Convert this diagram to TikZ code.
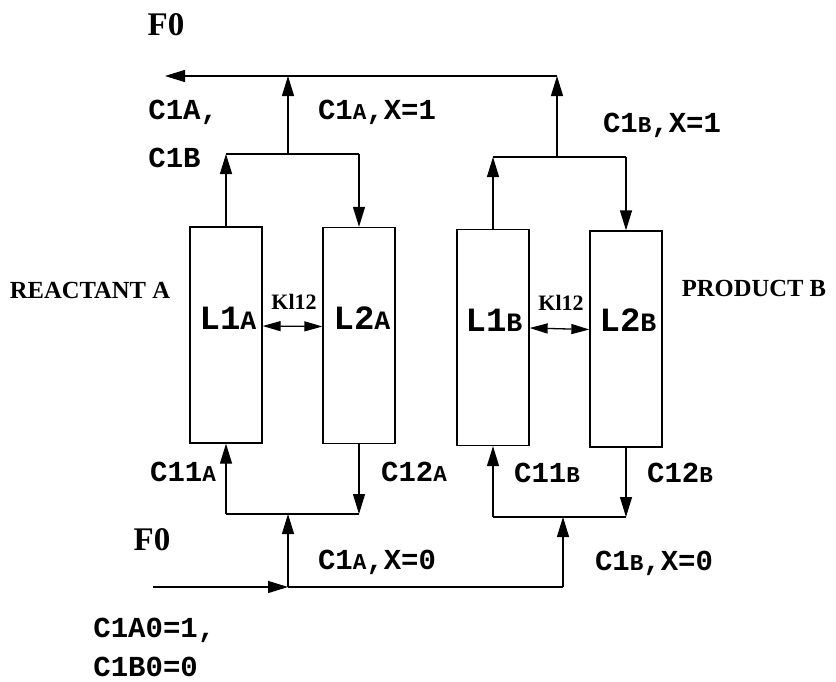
\documentclass[tikz,border=0pt]{standalone}
\usepackage{fontspec}
\usepackage{graphicx}
\setmainfont{Liberation Serif}
\setmonofont{Liberation Mono}
\usepackage{tikz}
\usetikzlibrary{arrows.meta}

\newcommand{\smc}[1]{\scalebox{0.78}{#1}}

\tikzset{
  column/.style={draw, line width=0.65pt, minimum width=36pt, minimum height=108pt, inner sep=0pt},
  pipe/.style={line width=0.65pt},
  flow/.style={line width=0.65pt, -{Triangle[length=10pt,width=6pt]}},
  duplex/.style={line width=0.65pt, {Triangle[length=9pt,width=5pt]}-{Triangle[length=9pt,width=5pt]}},
  conc/.style={font=\ttfamily\bfseries\fontsize{14.5}{17}\selectfont, inner sep=0pt},
  colname/.style={font=\ttfamily\bfseries\fontsize{17}{19}\selectfont, inner sep=0pt},
  tag/.style={font=\bfseries\fontsize{12.3}{14}\selectfont, inner sep=0pt},
  feed/.style={font=\bfseries\fontsize{16.5}{18}\selectfont, inner sep=0pt},
  rate/.style={font=\bfseries\fontsize{11}{13}\selectfont, inner sep=0pt}
}

\begin{document}
\begin{tikzpicture}[x=0.5pt,y=-0.5pt]
\useasboundingbox (0,0) rectangle (836,681);

% columns
\node[column] (L1A) at (226,335) {};
\node[column] (L2A) at (359,335.5) {};
\node[column] (L1B) at (493,337.5) {};
\node[column] (L2B) at (626,339) {};

\node[colname] at (228,318) {L1\smc{A}};
\node[colname] at (362,318) {L2\smc{A}};
\node[colname] at (494,320) {L1\smc{B}};
\node[colname] at (628,320) {L2\smc{B}};

% junctions
\coordinate (topA) at (288,154);
\coordinate (topB) at (557,157);
\coordinate (outL) at (165,76);
\coordinate (outA) at (288,76);
\coordinate (outB) at (557,76);
\coordinate (botA) at (288,514);
\coordinate (botB) at (563,517);
\coordinate (feedIn) at (153,587);
\coordinate (feedA) at (288,587);
\coordinate (feedB) at (563,587);

% product stream out at the top
\draw[flow] (L1A.north) -- (L1A.north |- topA);
\draw[pipe] (L1A.north |- topA) -- (L2A.north |- topA);
\draw[flow] (L2A.north |- topA) -- (L2A.north);
\draw[flow] (topA) -- (outA);
\draw[flow] (L1B.north) -- (L1B.north |- topB);
\draw[pipe] (L1B.north |- topB) -- (L2B.north |- topB);
\draw[flow] (L2B.north |- topB) -- (L2B.north);
\draw[flow] (topB) -- (outB);
\draw[flow] (outB) -- (outL);

% feed in at the bottom
\draw[flow] (L1A.south |- botA) -- (L1A.south);
\draw[pipe] (L1A.south |- botA) -- (L2A.south |- botA);
\draw[flow] (L2A.south) -- (L2A.south |- botA);
\draw[flow] (L1B.south |- botB) -- (L1B.south);
\draw[pipe] (L1B.south |- botB) -- (L2B.south |- botB);
\draw[flow] (L2B.south) -- (L2B.south |- botB);
\draw[flow] (feedIn) -- (feedA);
\draw[pipe] (feedA) -- (feedB);
\draw[flow] (feedA) -- (botA);
\draw[flow] (feedB) -- (botB);

% exchange between the two columns
\draw[duplex] ([yshift=4.5pt]L1A.east) -- ([yshift=4.5pt]L2A.west);
\draw[duplex] ([yshift=4.75pt]L1B.east) -- ([yshift=4.75pt]L2B.west);
\node[rate] (kA) at (294,302) {Kl12};
\node[rate] (kB) at (561,303) {Kl12};

% labels
\node[feed] (fTop) at (166,25) {F0};
\node[feed] (fBot) at (152,540) {F0};
\node[tag] (reac) at (90,290) {REACTANT A};
\node[tag] (prod) at (754,288) {PRODUCT B};

\node[conc, anchor=west] (cOut1) at (148,112) {C1A,};
\node[conc, anchor=west] (cOut2) at (148,158) {C1B};
\node[conc] (cTopA) at (377,112) {C1\smc{A},X=1};
\node[conc] (cTopB) at (662,125) {C1\smc{B},X=1};
\node[conc] (c11A) at (183,472) {C11\smc{A}};
\node[conc] (c12A) at (414,472) {C12\smc{A}};
\node[conc] (c11B) at (547,473) {C11\smc{B}};
\node[conc] (c12B) at (680,473) {C12\smc{B}};
\node[conc] (cBotA) at (377,562) {C1\smc{A},X=0};
\node[conc] (cBotB) at (654,563) {C1\smc{B},X=0};
\node[conc, anchor=west] (cIn1) at (93,630) {C1A0=1,};
\node[conc, anchor=west] (cIn2) at (93,667) {C1B0=0};
\end{tikzpicture}
\end{document}
